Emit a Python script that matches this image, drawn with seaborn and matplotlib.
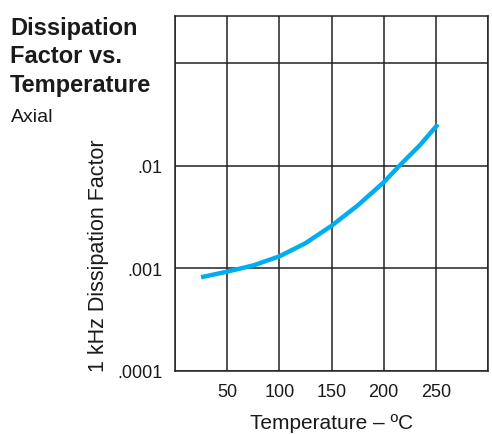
import numpy as np
import pandas as pd
import seaborn as sns
from matplotlib import pyplot as plt
from matplotlib.ticker import FixedLocator, FixedFormatter

# values
temperature_c = [25, 50, 75, 100, 125, 150, 175, 200, 215, 235, 252]
dissipation_factor = [0.00082, 0.00093, 0.00107, 0.00131, 0.00176, 0.0026,
                      0.0041, 0.0069, 0.0100, 0.0160, 0.0254]

x_ticks = [0, 50, 100, 150, 200, 250, 300]
x_tick_labels = ["", "50", "100", "150", "200", "250", ""]
y_ticks = [0.0001, 0.001, 0.01, 0.1]
y_tick_labels = [".0001", ".001", ".01", ""]

sns.set_style("white")
plt.rcParams["font.family"] = ["Liberation Sans", "DejaVu Sans"]

df = pd.DataFrame({"T": temperature_c, "DF": dissipation_factor})

fig = plt.figure(figsize=(4.92, 4.35), dpi=100)
ax = fig.add_axes([175 / 492, 63 / 435, 313 / 492, 355.5 / 435])

sns.lineplot(data=df, x="T", y="DF", ax=ax, color="#00aeef", linewidth=3.2,
             solid_capstyle="butt", solid_joinstyle="round")

ax.set_yscale("log")
ax.set_xlim(0, 300)
ax.set_ylim(0.0001, 0.292)

ax.xaxis.set_major_locator(FixedLocator(x_ticks))
ax.xaxis.set_major_formatter(FixedFormatter(x_tick_labels))
ax.yaxis.set_major_locator(FixedLocator(y_ticks))
ax.yaxis.set_major_formatter(FixedFormatter(y_tick_labels))
ax.yaxis.set_minor_locator(FixedLocator([]))

ax.grid(True, which="major", color="#222222", linewidth=1.1)
for s in ax.spines.values():
    s.set_color("#222222")
    s.set_linewidth(1.1)
ax.tick_params(length=0, labelsize=13, pad=9, colors="#1a1a1a")

ax.set_xlabel("Temperature – ºC", fontsize=15, color="#1a1a1a", labelpad=9)
ax.set_ylabel("1 kHz Dissipation Factor", fontsize=15.5, color="#1a1a1a",
              loc="bottom", labelpad=6)

# title block on the left
for line, yb in [("Dissipation", 35), ("Factor vs.", 63), ("Temperature", 92)]:
    fig.text(10 / 492, 1 - yb / 435, line, fontsize=17, fontweight="bold",
             va="baseline", ha="left", color="#1a1a1a")
fig.text(11 / 492, 1 - 122 / 435, "Axial", fontsize=14, va="baseline",
         ha="left", color="#1a1a1a")

fig.savefig("out.png", dpi=100)
